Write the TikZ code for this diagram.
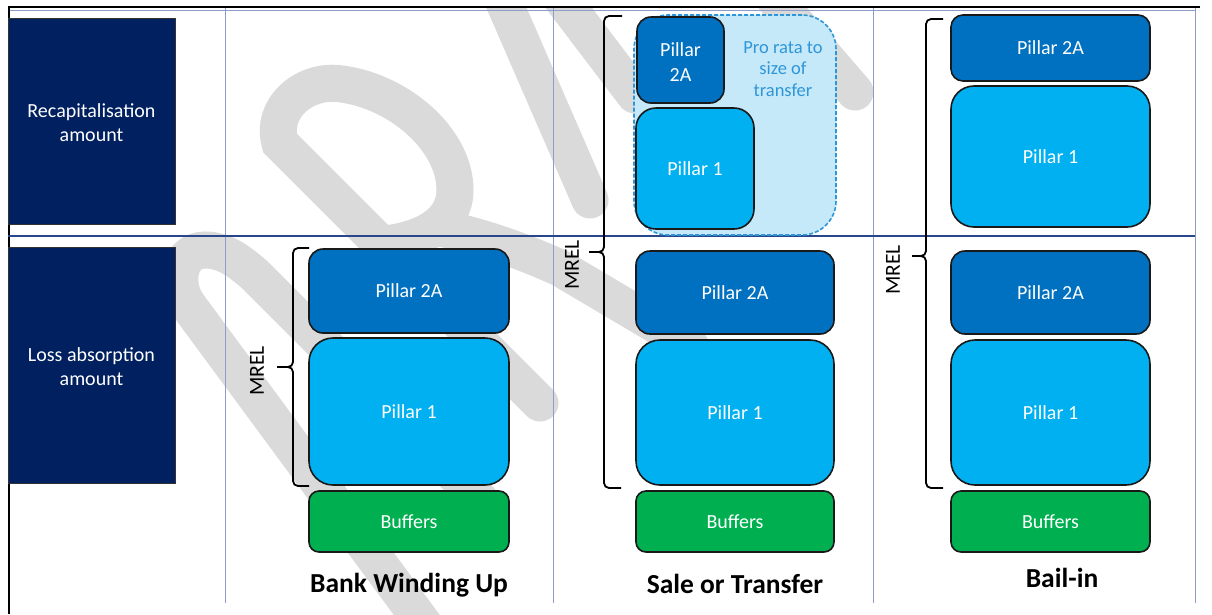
\documentclass[tikz,border=0pt]{standalone}
\usepackage{fontspec}
\setmainfont{Carlito}
\definecolor{navy1}{RGB}{0,32,96}
\definecolor{blue2a}{RGB}{0,112,192}
\definecolor{blue1}{RGB}{0,176,240}
\definecolor{green1}{RGB}{0,176,80}
\definecolor{grid1}{RGB}{140,158,200}
\definecolor{rule1}{RGB}{40,70,140}
\definecolor{prorata}{RGB}{46,150,215}
\definecolor{prorataF}{RGB}{198,233,250}
\definecolor{wmark}{RGB}{218,218,218}

\begin{document}
\begin{tikzpicture}[x=1pt, y=-1pt,
  box/.style={draw=black!90, line width=1.6pt, text=white, align=center, inner sep=0pt,
    font=\fontsize{20}{25}\selectfont},
  p2a/.style={box, fill=blue2a},
  p1/.style={box, fill=blue1},
  buf/.style={box, fill=green1, rounded corners=10pt},
  side/.style={draw=black!80, line width=1pt, fill=navy1, text=white, align=center,
    minimum width=167pt, font=\fontsize{20}{24}\selectfont},
  mrel/.style={rotate=90, font=\fontsize{21.5}{24}\selectfont},
  title/.style={font=\fontsize{27.5}{30}\selectfont\bfseries},
  brace/.style={line width=1.8pt, rounded corners=5pt},
  gridline/.style={grid1, line width=1pt},
  wm/.style={wmark, line width=37pt, line cap=round}
]
\fill[white] (0,0) rectangle (1212,614);
\useasboundingbox (0,0) rectangle (1212,614);

% watermark behind everything
\begin{scope}
  \clip (8,8) rectangle (1200,614);
  % R
  \draw[wm] (540,403) -- (280,143) .. controls (270,108) and (305,78) .. (342,84)
    .. controls (400,92) and (455,140) .. (455,190)
    .. controls (455,225) and (420,240) .. (385,244);
  \draw[wm] (440,228) .. controls (480,236) and (520,250) .. (560,268) -- (690,345);
  % D
  \draw[wm] (450,660) -- (188,305) .. controls (172,282) and (180,250) .. (205,250)
    .. controls (225,250) and (240,262) .. (255,275) -- (480,500);
  % A, F, T
  \draw[wm] (490,-30) -- (590,200);
  \draw[wm] (540,-30) -- (635,95);
  \draw[wm] (750,-30) -- (855,92);
\end{scope}

% frame and grid
\foreach \gx in {225,553,873,1195}
  \draw[gridline] (\gx,8) -- (\gx,603);
\draw[gridline] (8,10) -- (1196,10);
\draw[black, line width=2.5pt] (8,7) -- (1200,7);
\draw[black, line width=2pt] (9,6) -- (9,614);
\draw[rule1, line width=1.5pt] (8,236) -- (1195,236);

% row labels
\node[side, minimum height=206pt] (recap) at (91.5,121) {\strut Recapitalisation\\amount};
\node[side, minimum height=236pt] (loss) at (91.5,365) {\strut Loss absorption\\amount};

% bank winding up
\node[p2a, rounded corners=14pt, minimum width=200pt, minimum height=84pt] (bwP2) at (409,291) {Pillar 2A};
\node[p1, rounded corners=24pt, minimum width=200pt, minimum height=147pt] (bwP1) at (409,411.5) {Pillar 1};
\node[buf, minimum width=200pt, minimum height=61pt] (bwBuf) at (409,521.5) {Buffers};
\draw[brace] (309,248) -- (293,248) -- (293,367) -- (277,367);
\draw[brace] (277,367) -- (293,367) -- (293,486) -- (309,486);
\node[mrel] (bwMrel) at (257,371) {MREL};
\node[title] (bwTitle) at (409,585) {Bank Winding Up};

% sale or transfer
\node[draw=prorata, dash pattern=on 4pt off 2pt, line width=1.6pt, fill=prorataF,
  rounded corners=34pt, minimum width=202pt, minimum height=220pt] (transfer) at (735,125) {};
\node[text=prorata, align=center, font=\fontsize{18.5}{21.7}\selectfont] (prorataTxt) at (783,69) {Pro rata to\\size of\\transfer};
\node[p2a, rounded corners=14pt, minimum width=87pt, minimum height=86pt] (stTopP2) at (680.5,60) {\strut Pillar\\2A};
\node[p1, rounded corners=20pt, minimum width=118pt, minimum height=121pt] (stTopP1) at (695,168.5) {Pillar 1};
\node[p2a, rounded corners=14pt, minimum width=198pt, minimum height=83pt] (stP2) at (735,292.5) {Pillar 2A};
\node[p1, rounded corners=24pt, minimum width=198pt, minimum height=145pt] (stP1) at (735,412.5) {Pillar 1};
\node[buf, minimum width=198pt, minimum height=61pt] (stBuf) at (735,521.5) {Buffers};
\draw[brace] (622,16) -- (604,16) -- (604,252) -- (589,252);
\draw[brace] (589,252) -- (604,252) -- (604,488) -- (621,488);
\node[mrel] (stMrel) at (572,265) {MREL};
\node[title] (stTitle) at (735,584) {Sale or Transfer};

% bail-in
\node[p2a, rounded corners=12pt, minimum width=199pt, minimum height=66pt] (biTopP2) at (1050.5,48) {Pillar 2A};
\node[p1, rounded corners=23pt, minimum width=199pt, minimum height=141pt] (biTopP1) at (1050.5,156.5) {Pillar 1};
\node[p2a, rounded corners=14pt, minimum width=199pt, minimum height=83pt] (biP2) at (1050.5,292.5) {Pillar 2A};
\node[p1, rounded corners=24pt, minimum width=199pt, minimum height=145pt] (biP1) at (1050.5,412.5) {Pillar 1};
\node[buf, minimum width=199pt, minimum height=61pt] (biBuf) at (1050.5,521.5) {Buffers};
\draw[brace] (943,19) -- (926,19) -- (926,256) -- (912,256);
\draw[brace] (912,256) -- (926,256) -- (926,488) -- (943,488);
\node[mrel] (biMrel) at (893,270) {MREL};
\node[title] (biTitle) at (1062,578) {Bail-in};
\end{tikzpicture}
\end{document}
